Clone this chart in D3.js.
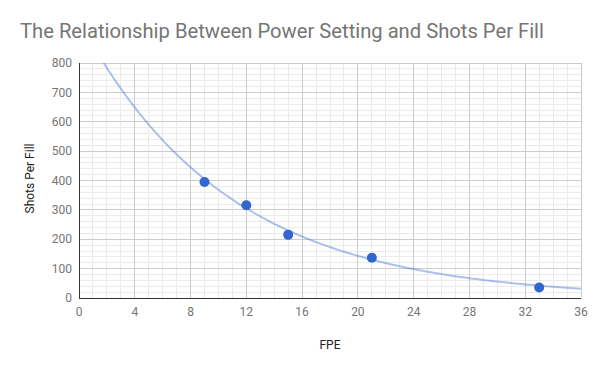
<!DOCTYPE html>
<html>
<head>
<script src="https://d3js.org/d3.v7.min.js"></script>
<style>
  body { margin: 0; background: #fff; }
  text { font-family: Roboto, sans-serif; }
</style>
</head>
<body>
<svg id="viz"></svg>
<script>
// data
var fpe = [9, 12, 15, 21, 33];
var shots = [395, 316, 215, 137, 36];
var xTicks = [0, 4, 8, 12, 16, 20, 24, 28, 32, 36];
var yTicks = [0, 100, 200, 300, 400, 500, 600, 700, 800];
// exponential trendline y = a * e^(b x)
var trendA = 946, trendB = -0.0943;

var width = 600, height = 371;
var m = {left: 79, right: 19, top: 63, bottom: 73};

var svg = d3.select("#viz").attr("width", width).attr("height", height);

var x = d3.scaleLinear().domain([0, 36]).range([m.left, width - m.right]);
var y = d3.scaleLinear().domain([0, 800]).range([height - m.bottom, m.top]);

// minor grid
svg.append("g").selectAll("line").data(d3.range(0, 37, 1)).enter().append("line")
  .attr("x1", d => x(d)).attr("x2", d => x(d))
  .attr("y1", y(0)).attr("y2", y(800))
  .attr("stroke", "#ebebeb").attr("shape-rendering", "crispEdges");
svg.append("g").selectAll("line").data(d3.range(0, 801, 20)).enter().append("line")
  .attr("y1", d => y(d)).attr("y2", d => y(d))
  .attr("x1", x(0)).attr("x2", x(36))
  .attr("stroke", "#ebebeb").attr("shape-rendering", "crispEdges");

// major grid
svg.append("g").selectAll("line").data(xTicks).enter().append("line")
  .attr("x1", d => x(d)).attr("x2", d => x(d))
  .attr("y1", y(0)).attr("y2", y(800))
  .attr("stroke", "#cccccc").attr("shape-rendering", "crispEdges");
svg.append("g").selectAll("line").data(yTicks).enter().append("line")
  .attr("y1", d => y(d)).attr("y2", d => y(d))
  .attr("x1", x(0)).attr("x2", x(36))
  .attr("stroke", "#cccccc").attr("shape-rendering", "crispEdges");

// baseline axes
svg.append("line").attr("x1", x(0)).attr("x2", x(36)).attr("y1", y(0)).attr("y2", y(0))
  .attr("stroke", "#333").attr("shape-rendering", "crispEdges");
svg.append("line").attr("x1", x(0)).attr("x2", x(0)).attr("y1", y(0)).attr("y2", y(800))
  .attr("stroke", "#333").attr("shape-rendering", "crispEdges");

// tick labels
svg.append("g").selectAll("text").data(yTicks).enter().append("text")
  .attr("x", x(0) - 7).attr("y", d => y(d)).attr("dy", "0.35em")
  .attr("text-anchor", "end").attr("font-size", 12).attr("fill", "#757575")
  .text(d => d);
svg.append("g").selectAll("text").data(xTicks).enter().append("text")
  .attr("x", d => x(d)).attr("y", y(0) + 14).attr("dy", "0.35em")
  .attr("text-anchor", "middle").attr("font-size", 12).attr("fill", "#757575")
  .text(d => d);

// trendline
var clip = svg.append("clipPath").attr("id", "plot").append("rect")
  .attr("x", x(0)).attr("y", y(800)).attr("width", x(36) - x(0)).attr("height", y(0) - y(800));
var line = d3.line().x(d => x(d)).y(d => y(trendA * Math.exp(trendB * d)));
svg.append("path").datum(d3.range(0, 36.01, 0.25))
  .attr("d", line).attr("fill", "none")
  .attr("stroke", "#3366cc").attr("stroke-opacity", 0.4).attr("stroke-width", 2)
  .attr("clip-path", "url(#plot)");

// points
svg.append("g").selectAll("circle").data(fpe).enter().append("circle")
  .attr("cx", d => x(d)).attr("cy", (d, i) => y(shots[i]))
  .attr("r", 5).attr("fill", "#3366cc");

// titles
svg.append("text").attr("x", 20).attr("y", 38)
  .attr("font-size", 20.2).attr("fill", "#757575")
  .text("The Relationship Between Power Setting and Shots Per Fill");
svg.append("text").attr("transform", "translate(" + 30 + "," + (y(400) - 2) + ") rotate(-90)")
  .attr("text-anchor", "middle").attr("dy", "0.35em").attr("font-size", 12).attr("fill", "#222")
  .text("Shots Per Fill");
svg.append("text").attr("x", x(18)).attr("y", 345).attr("dy", "0.35em")
  .attr("text-anchor", "middle").attr("font-size", 12).attr("fill", "#222")
  .text("FPE");
</script>
</body>
</html>
